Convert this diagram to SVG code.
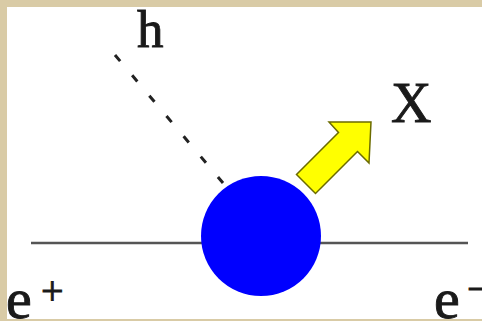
<svg xmlns="http://www.w3.org/2000/svg" width="482" height="321" viewBox="0 0 482 321">
<style>
.lbl{font-family:"Liberation Serif","Times New Roman",serif;fill:#1a1a1a;stroke:#1a1a1a;stroke-width:0.9}
.beam{stroke:#555;stroke-width:2.5;fill:none}
</style>
<rect width="482" height="321" fill="#ffffff"/>
<g id="connectors">
<line class="beam" x1="31" y1="243" x2="205" y2="243"/>
<line class="beam" x1="320" y1="243" x2="468" y2="243"/>
<line x1="115" y1="55" x2="223" y2="183" stroke="#222" stroke-width="3" stroke-dasharray="8 18.6"/>
</g>
<g id="vertex">
<circle cx="261" cy="236" r="60" fill="#0000ff"/>
</g>
<g id="arrow">
<polygon points="296.5,174.5 315.5,193.5 357.5,151.5 369,163 371,122 329,122 338.5,132.5" fill="#ffff00" stroke="#6b6b00" stroke-width="1.5" stroke-linejoin="miter"/>
</g>
<g id="label-h"><text class="lbl" x="137" y="47" font-size="53">h</text></g>
<g id="label-X"><text class="lbl" x="391" y="122" font-size="56">X</text></g>
<g id="label-eplus"><text class="lbl" x="6" y="318" font-size="58">e</text><text class="lbl" x="41" y="304" font-size="40">+</text></g>
<g id="label-eminus"><text class="lbl" x="434" y="318" font-size="58">e</text><text class="lbl" x="467" y="302" font-size="40">−</text></g>
<g id="frame" fill="#d9cba6">
<rect x="0" y="0" width="482" height="7"/>
<rect x="0" y="0" width="7" height="321"/>
<rect x="0" y="319" width="482" height="2"/>
</g>
</svg>
